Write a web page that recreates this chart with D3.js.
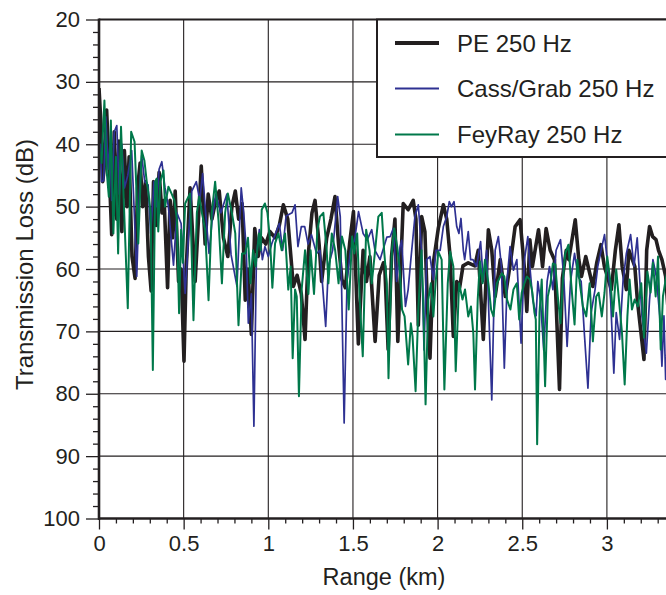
<!DOCTYPE html>
<html><head><meta charset="utf-8">
<script src="https://cdn.jsdelivr.net/npm/d3@7"></script>
<style>
body{margin:0;background:#fff}
svg{display:block}
text{font-family:"Liberation Sans",Arial,Helvetica,sans-serif;fill:#231f20}
</style>
</head><body>
<svg id="c" width="666" height="595"></svg>
<script>
// ---- data (range km, transmission loss dB) ----
const peLoss = [[0,31],[0.012,37],[0.022,46],[0.03,44],[0.045,34.5],[0.06,44],[0.075,54.5],[0.09,38],[0.105,52],[0.118,39.5],[0.135,54],[0.15,41],[0.165,50],[0.178,42],[0.195,58],[0.213,61.5],[0.228,47],[0.243,43],[0.258,50],[0.275,46],[0.292,58],[0.308,63.5],[0.322,46],[0.338,53],[0.355,44.5],[0.372,51],[0.385,49],[0.405,63],[0.42,49],[0.435,55],[0.45,47.5],[0.47,62],[0.485,60],[0.502,74.8],[0.515,60],[0.538,47],[0.568,62],[0.604,43.5],[0.627,56],[0.645,48],[0.667,52],[0.69,49],[0.71,47.5],[0.735,55],[0.761,58],[0.785,50],[0.805,47.5],[0.825,52],[0.845,49.5],[0.864,65],[0.88,60],[0.9,70.5],[0.92,53.5],[0.94,58],[0.96,55],[0.985,56],[1.01,54],[1.04,55],[1.065,53],[1.089,49.7],[1.115,52],[1.148,62.8],[1.17,61],[1.195,64],[1.217,71.3],[1.235,58],[1.258,51],[1.276,49],[1.3,56],[1.315,62],[1.345,55],[1.37,52],[1.394,48.4],[1.415,56],[1.435,61.7],[1.455,63],[1.48,56],[1.503,50.8],[1.532,72],[1.56,57],[1.58,62],[1.6,58],[1.631,71.6],[1.655,61],[1.68,59],[1.688,59.6],[1.708,72.9],[1.728,58],[1.748,52],[1.765,71.6],[1.797,49.5],[1.826,50.5],[1.856,49],[1.872,52],[1.886,69],[1.906,51.6],[1.925,54],[1.94,66],[1.955,74.3],[1.975,59],[2.004,53.5],[2.034,49.7],[2.054,52],[2.074,58],[2.093,70.8],[2.113,62],[2.13,63],[2.15,59.5],[2.181,59],[2.22,59.5],[2.24,57],[2.27,71.3],[2.3,53.7],[2.32,57],[2.34,64.4],[2.37,58.5],[2.4,64.4],[2.43,59],[2.458,53.2],[2.487,52.1],[2.513,60],[2.527,66.8],[2.545,55.3],[2.56,59.6],[2.596,53.7],[2.61,57],[2.62,59.6],[2.641,53.5],[2.665,57],[2.69,58.5],[2.72,79.3],[2.737,61.5],[2.76,57],[2.775,58.5],[2.813,52.1],[2.834,58.5],[2.85,61.2],[2.875,58],[2.917,62.8],[2.94,59],[2.965,56.1],[2.985,59.6],[3.026,63.3],[3.05,57],[3.071,52.9],[3.09,59.6],[3.115,63.3],[3.13,57],[3.165,59.6],[3.18,65],[3.219,74.5],[3.235,57],[3.252,53.2],[3.27,54.8],[3.29,55.3],[3.305,57],[3.325,58.5],[3.347,61.2],[3.36,66]];

const cassGrabLoss = [[0,42],[0.008,40],[0.015,46],[0.028,45.8],[0.04,35.6],[0.055,44],[0.065,40],[0.075,49],[0.09,38],[0.105,37],[0.12,48],[0.135,40],[0.15,47],[0.17,45],[0.193,41],[0.21,52],[0.223,61.2],[0.238,48],[0.252,41.8],[0.27,46],[0.29,46.5],[0.305,54.3],[0.325,46],[0.34,50],[0.355,44],[0.371,42.8],[0.39,47],[0.41,50],[0.44,59.4],[0.46,51],[0.485,52.7],[0.509,63.9],[0.53,54],[0.548,47.5],[0.575,46],[0.595,49],[0.612,44.7],[0.63,51],[0.65,57.5],[0.67,51.7],[0.69,48],[0.72,51],[0.755,48],[0.78,57.7],[0.815,62.8],[0.84,47],[0.855,51],[0.87,57],[0.882,68.7],[0.9,64],[0.915,85.2],[0.93,58],[0.947,53.7],[0.965,58.5],[0.98,56.4],[1,58],[1.02,56],[1.04,54.5],[1.065,52.7],[1.085,57],[1.105,51.5],[1.14,51],[1.158,49.7],[1.175,56.4],[1.195,53.2],[1.215,53.2],[1.235,56],[1.255,54.5],[1.285,57.5],[1.305,57],[1.339,69.2],[1.355,59.5],[1.38,57],[1.41,48.4],[1.425,51.6],[1.448,84.7],[1.465,62],[1.485,57],[1.51,55.3],[1.533,50.8],[1.56,54.3],[1.585,55.3],[1.611,53.7],[1.63,57],[1.66,58.5],[1.7,54.9],[1.72,54.8],[1.738,53.5],[1.758,62],[1.778,56.5],[1.788,55.4],[1.81,66],[1.826,63.3],[1.842,58.5],[1.866,51.6],[1.886,49.7],[1.905,57],[1.92,73],[1.935,58.5],[1.955,58],[1.975,61.7],[1.99,57],[2.015,57],[2.034,53.2],[2.054,51.6],[2.069,49.2],[2.082,50],[2.097,49.2],[2.113,53.2],[2.126,54.3],[2.138,51.9],[2.152,57],[2.16,58.5],[2.181,54],[2.195,58.5],[2.209,58.5],[2.23,59.6],[2.254,55.6],[2.27,62],[2.29,57],[2.32,81],[2.34,57],[2.359,54.8],[2.377,59.6],[2.394,75.9],[2.412,61.2],[2.428,56.4],[2.448,60.2],[2.468,58.5],[2.493,71.9],[2.513,58.5],[2.533,54.8],[2.545,59.6],[2.562,64.9],[2.582,67.5],[2.592,62],[2.607,64.9],[2.627,73],[2.647,62],[2.661,59.6],[2.681,63.3],[2.7,57],[2.726,55.3],[2.745,61.2],[2.765,72.4],[2.785,62],[2.809,57.5],[2.83,61.2],[2.848,62],[2.868,70.8],[2.888,79.1],[2.907,67],[2.93,63.3],[2.946,59.6],[2.966,57],[2.986,54.5],[3.006,59.6],[3.022,64.9],[3.041,76.7],[3.055,67],[3.075,71.3],[3.095,62],[3.115,57.5],[3.14,54.5],[3.16,59.6],[3.179,55],[3.193,61.2],[3.207,67.5],[3.233,73.5],[3.252,64.9],[3.272,58.5],[3.292,61.2],[3.312,67.5],[3.325,75.6],[3.337,67.5],[3.347,77.7],[3.36,70]];

const feyRayLoss = [[0,40.4],[0.015,43],[0.032,33],[0.045,44.2],[0.058,48.4],[0.07,36.2],[0.085,54.3],[0.1,42],[0.113,57.5],[0.13,37.2],[0.142,46],[0.17,66.3],[0.19,38],[0.21,39.6],[0.222,48],[0.232,55.9],[0.252,41],[0.268,42.6],[0.282,46],[0.295,48.4],[0.305,51],[0.318,76.2],[0.332,46],[0.341,45.5],[0.35,54],[0.362,46],[0.381,44.2],[0.39,50],[0.41,46.8],[0.43,48],[0.445,49],[0.46,52],[0.473,67.1],[0.485,53.7],[0.495,59],[0.509,49.5],[0.538,47.9],[0.558,68.2],[0.578,51],[0.592,48.4],[0.608,51],[0.627,53.7],[0.647,65],[0.666,51],[0.686,46],[0.706,52.2],[0.726,62.3],[0.745,51],[0.761,47.9],[0.785,51],[0.805,54.3],[0.824,69],[0.845,57.5],[0.864,57.5],[0.88,55],[0.895,62.3],[0.91,57],[0.925,59.6],[0.945,54.3],[0.955,57],[0.961,50.5],[0.98,49.5],[0.995,51],[1.01,55.3],[1.024,63],[1.04,55.9],[1.06,54.3],[1.079,57],[1.099,54.3],[1.118,63.3],[1.132,59.6],[1.144,74.3],[1.158,63.3],[1.168,64.4],[1.181,80.4],[1.197,63.3],[1.217,57],[1.237,64],[1.25,57],[1.27,64],[1.29,53.7],[1.305,51.6],[1.325,51],[1.345,57],[1.355,62.3],[1.375,54.3],[1.395,57],[1.415,62.3],[1.435,54.8],[1.455,57],[1.475,66.5],[1.495,54.8],[1.508,57.5],[1.525,54.3],[1.54,64.9],[1.558,74],[1.578,53.7],[1.598,57],[1.611,62.3],[1.631,57],[1.65,51.6],[1.67,51],[1.684,57],[1.7,62.3],[1.71,77.5],[1.73,57],[1.744,53.5],[1.762,56.5],[1.776,60],[1.79,66.5],[1.805,67.6],[1.826,75.3],[1.842,68.7],[1.852,70.8],[1.87,79.6],[1.886,66.5],[1.905,57],[1.915,64.9],[1.929,81.7],[1.945,64.9],[1.96,62.3],[1.975,67.6],[1.988,62.3],[2.004,57.2],[2.024,58.5],[2.04,79.3],[2.06,62.3],[2.074,57.2],[2.093,59.6],[2.107,76.4],[2.127,62.3],[2.147,64.9],[2.162,63.3],[2.181,67.6],[2.197,66],[2.211,70.3],[2.221,79.3],[2.237,64.9],[2.25,58.8],[2.266,62.3],[2.28,58.5],[2.3,62.3],[2.316,66.5],[2.33,67.6],[2.35,62.3],[2.37,61.2],[2.38,60.7],[2.394,61.2],[2.41,64.9],[2.43,66.5],[2.448,63.3],[2.468,62.3],[2.482,68.1],[2.497,63.8],[2.513,62.3],[2.527,61.2],[2.545,61.7],[2.56,63.8],[2.572,67],[2.58,68.1],[2.588,88.1],[2.602,67],[2.615,61.7],[2.625,69.7],[2.635,78.8],[2.651,64.4],[2.667,62.3],[2.681,59.1],[2.695,59.3],[2.71,64.4],[2.726,68.7],[2.74,61.7],[2.754,57.5],[2.773,56.1],[2.789,62.3],[2.809,68.9],[2.825,58.5],[2.84,62.3],[2.858,66],[2.878,67.6],[2.898,62.3],[2.917,71.6],[2.937,64.4],[2.951,63.8],[2.97,67.6],[2.986,63.8],[3.002,58],[3.022,62.3],[3.036,67.6],[3.055,60.1],[3.071,64.9],[3.089,70.2],[3.105,78.5],[3.121,67.6],[3.134,61.7],[3.148,66.5],[3.164,64.9],[3.183,66],[3.203,62.3],[3.219,71],[3.239,60.4],[3.258,63.8],[3.272,59],[3.288,64.4],[3.302,58],[3.318,72.9],[3.331,64.4],[3.347,61.7],[3.36,60]];

const seriesNames = ["PE 250 Hz", "Cass/Grab 250 Hz", "FeyRay 250 Hz"];
const xMajorTicks = [0, 0.5, 1, 1.5, 2, 2.5, 3];
const xTickLabels = ["0", "0.5", "1", "1.5", "2", "2.5", "3"];
const yMajorTicks = [20, 30, 40, 50, 60, 70, 80, 90, 100];
const xTitle = "Range (km)";
const yTitle = "Transmission Loss (dB)";

// ---- drawing ----
const svg = d3.select("#c");
const L = 99, R = 666, T = 19.5, B = 518.5;
const x = d3.scaleLinear().domain([0, (R - L) / 169.3]).range([L, R]);
const y = d3.scaleLinear().domain([20, 100]).range([T, B]);
const ink = "#231f20";

// grid
const grid = svg.append("g").attr("stroke", ink).attr("stroke-width", 1.1);
grid.selectAll(".gx").data(xMajorTicks.slice(1)).join("line")
  .attr("x1", d => x(d)).attr("x2", d => x(d)).attr("y1", T).attr("y2", B);
grid.selectAll(".gy").data(yMajorTicks.slice(1, -1)).join("line")
  .attr("x1", L).attr("x2", R).attr("y1", d => y(d)).attr("y2", d => y(d));

// series
svg.append("clipPath").attr("id", "clip").append("rect")
  .attr("x", L).attr("y", T).attr("width", R - L).attr("height", B - T);
const line = d3.line().x(d => x(d[0])).y(d => y(d[1]));
const series = [
  {data: peLoss, color: "#231f20", w: 3.6},
  {data: cassGrabLoss, color: "#2e3192", w: 1.7},
  {data: feyRayLoss, color: "#00784a", w: 2.0}
];
const lg = svg.append("g").attr("clip-path", "url(#clip)");
series.forEach(s => {
  lg.append("path").datum(s.data).attr("d", line)
    .attr("fill", "none").attr("stroke", s.color).attr("stroke-width", s.w)
    .attr("stroke-linejoin", "round");
});

// axes
const fmtX = d => xTickLabels[xMajorTicks.indexOf(d)];
const xMinor = d3.range(0, 34).map(i => i / 10).filter(v => Math.abs(v * 2 - Math.round(v * 2)) > 1e-6);
const yMinor = d3.range(20, 101, 2).filter(v => v % 10 !== 0);

const xa = svg.append("g").attr("transform", `translate(0,${B})`)
  .call(d3.axisBottom(x).tickValues(xMajorTicks).tickFormat(fmtX).tickSize(11).tickPadding(6));
svg.append("g").attr("transform", `translate(0,${B})`)
  .call(d3.axisBottom(x).tickValues(xMinor).tickFormat("").tickSize(5))
  .call(g => g.select(".domain").remove());
const ya = svg.append("g").attr("transform", `translate(${L},0)`)
  .call(d3.axisLeft(y).tickValues(yMajorTicks).tickSize(13).tickPadding(6));
svg.append("g").attr("transform", `translate(${L},0)`)
  .call(d3.axisLeft(y).tickValues(yMinor).tickFormat("").tickSize(6))
  .call(g => g.select(".domain").remove());

svg.selectAll(".tick line").attr("stroke", ink).attr("stroke-width", 1.3);
svg.selectAll(".tick text").attr("font-size", 22).attr("fill", ink)
  .attr("font-family", '"Liberation Sans",Arial,Helvetica,sans-serif');
xa.selectAll(".tick text").attr("dy", "0.71em");
xa.select(".domain").remove();
ya.select(".domain").remove();

// frame lines
svg.append("line").attr("x1", L).attr("x2", R).attr("y1", T).attr("y2", T).attr("stroke", ink).attr("stroke-width", 2.2);
svg.append("line").attr("x1", L).attr("x2", L).attr("y1", T - 1).attr("y2", B + 1.3).attr("stroke", ink).attr("stroke-width", 2.6);
svg.append("line").attr("x1", L - 1).attr("x2", R).attr("y1", B).attr("y2", B).attr("stroke", ink).attr("stroke-width", 2.6);

// titles
svg.append("text").attr("x", 384).attr("y", 585).attr("text-anchor", "middle")
  .attr("font-size", 23.5).text(xTitle);
svg.append("text").attr("transform", "translate(32.5,264.5) rotate(-90)")
  .attr("text-anchor", "middle").attr("font-size", 24).text(yTitle);

// legend
const leg = svg.append("g");
leg.append("rect").attr("x", 377).attr("y", T).attr("width", 300).attr("height", 157 - T)
  .attr("fill", "#fff").attr("stroke", ink).attr("stroke-width", 2);
const rowsY = [43, 88.5, 134.5];
series.forEach((s, i) => {
  leg.append("line").attr("x1", 395).attr("x2", 439).attr("y1", rowsY[i]).attr("y2", rowsY[i])
    .attr("stroke", s.color).attr("stroke-width", i === 0 ? 4.2 : 1.8);
  leg.append("text").attr("x", 457).attr("y", rowsY[i]).attr("dy", "0.36em")
    .attr("font-size", 24).text(seriesNames[i]);
});
</script>
</body></html>
